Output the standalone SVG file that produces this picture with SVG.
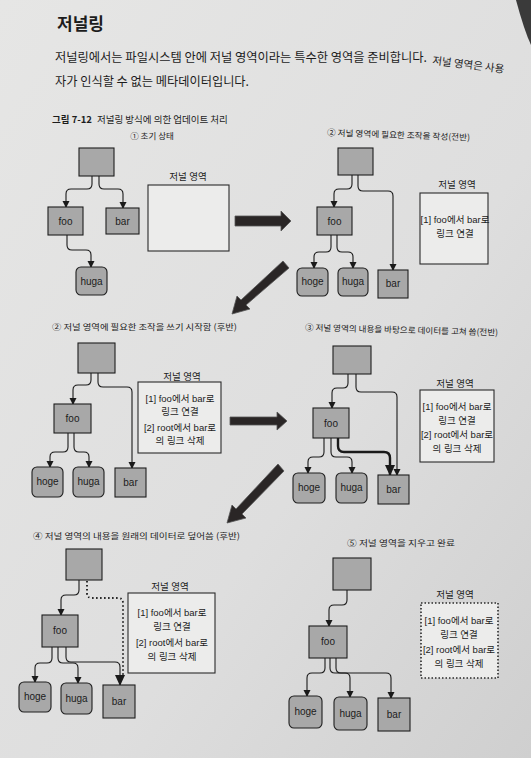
<svg xmlns="http://www.w3.org/2000/svg" width="531" height="758" viewBox="0 0 531 758">
<defs>
<linearGradient id="bg" x1="0" y1="0" x2="1" y2="1">
<stop offset="0" stop-color="#e6e6e5"/>
<stop offset="0.6" stop-color="#dedede"/>
<stop offset="1" stop-color="#cfcfcf"/>
</linearGradient>
<marker id="ah" markerUnits="userSpaceOnUse" markerWidth="8" markerHeight="8" refX="6" refY="3.5" orient="auto">
<path d="M0,0 L7,3.5 L0,7 z" fill="#1a1a1a"/>
</marker>
<marker id="ahb" markerUnits="userSpaceOnUse" markerWidth="12" markerHeight="12" refX="10" refY="5" orient="auto">
<path d="M0,0 L11,5 L0,10 z" fill="#1a1a1a"/>
</marker>
</defs>
<style>
.ko{font-family:"Noto Sans CJK KR","Liberation Sans",sans-serif;fill:#1c1c1c}
.lbl{font-family:"Liberation Sans","Noto Sans CJK KR",sans-serif;font-size:10px;fill:#1c1c1c;text-anchor:middle}
.jt{font-family:"Liberation Sans","Noto Sans CJK KR",sans-serif;font-size:9.5px;fill:#1c1c1c;text-anchor:middle}
.ptitle{font-family:"Noto Sans CJK KR","Liberation Sans",sans-serif;font-size:8.5px;fill:#222}
.node{fill:#a8a8a8;stroke:#1e1e1e;stroke-width:1.1}
.jbox{fill:#ececeb;stroke:#2a2a2a;stroke-width:1.1}
.jdot{fill:#ececeb;stroke:#2a2a2a;stroke-width:1.6;stroke-dasharray:1.5 2}
.c{fill:none;stroke:#1a1a1a;stroke-width:1.1;marker-end:url(#ah)}
.cb{fill:none;stroke:#1a1a1a;stroke-width:2.4;marker-end:url(#ahb)}
.ct{fill:none;stroke:#1a1a1a;stroke-width:1.1;marker-end:url(#ahb)}
.cd{fill:none;stroke:#1a1a1a;stroke-width:1.8;stroke-dasharray:1.5 2.5}
.big{fill:#2a2626;stroke:#555;stroke-width:0.8}
</style>
<rect width="531" height="758" fill="url(#bg)"/>
<path d="M516,0 L531,0 L531,45 Q524,30 516,0 z" fill="#3a3a3a"/>

<g id="header">
<text class="ko" x="57" y="30" font-size="17" font-weight="bold">저널링</text>
<text class="ko" x="55" y="62" font-size="12.5" textLength="372" lengthAdjust="spacingAndGlyphs">저널링에서는 파일시스템 안에 저널 영역이라는 특수한 영역을 준비합니다.</text>
<text class="ko" x="432" y="64" font-size="10.5" transform="rotate(7 432 64)">저널 영역은 사용</text>
<text class="ko" x="55" y="86" font-size="12.5" textLength="194" lengthAdjust="spacingAndGlyphs">자가 인식할 수 없는 메타데이터입니다.</text>
<text class="ko" x="52" y="123" font-size="9.5"><tspan font-weight="bold">그림 7-12</tspan><tspan dx="5">저널링 방식에 의한 업데이트 처리</tspan></text>
</g>

<g id="titles">
<text class="ptitle" x="152" y="139" text-anchor="middle">① 초기 상태</text>
<text class="ptitle" x="327" y="138" textLength="143" lengthAdjust="spacingAndGlyphs" transform="rotate(2 398 136)">② 저널 영역에 필요한 조작을 작성(전반)</text>
<text class="ptitle" x="52" y="330" textLength="185" lengthAdjust="spacingAndGlyphs">② 저널 영역에 필요한 조작을 쓰기 시작함 (후반)</text>
<text class="ptitle" x="305" y="333" textLength="193" lengthAdjust="spacingAndGlyphs" transform="rotate(1.5 400 331)">③ 저널 영역의 내용을 바탕으로 데이터를 고쳐 씀(전반)</text>
<text class="ptitle" x="33" y="539" textLength="207" lengthAdjust="spacingAndGlyphs">④ 저널 영역의 내용을 원래의 데이터로 덮어씀 (후반)</text>
<text class="ptitle" x="347" y="546" textLength="108" lengthAdjust="spacingAndGlyphs">⑤ 저널 영역을 지우고 완료</text>
</g>

<g id="connectors">
<!-- panel 1 -->
<path class="c" d="M92,176 V184 Q92,189 87,189 H71 Q66,189 66,194 V207"/>
<path class="c" d="M99,176 V184 Q99,189 104,189 H118 Q123,189 123,194 V208"/>
<path class="c" d="M67,235 V245 Q67,250 72,250 H86 Q91,250 91,255 V267"/>
<!-- panel 2 -->
<path class="c" d="M352,175 V184 Q352,189 347,189 H339 Q334,189 334,194 V207"/>
<path class="c" d="M358,175 V186 Q358,191 363,191 H388 Q393,191 393,196 V270"/>
<path class="c" d="M331,235 V247 Q331,252 326,252 H319 Q314,252 314,257 V268"/>
<path class="c" d="M337,235 V247 Q337,252 342,252 H348 Q353,252 353,257 V268"/>
<!-- panel 3 -->
<path class="c" d="M91,373 V380 Q91,385 86,385 H78 Q73,385 73,390 V404"/>
<path class="c" d="M98,373 V382 Q98,387 103,387 H127 Q132,387 132,392 V468"/>
<path class="c" d="M68,433 V447 Q68,452 63,452 H55 Q50,452 50,457 V467"/>
<path class="c" d="M74,433 V447 Q74,452 79,452 H84 Q89,452 89,457 V467"/>
<!-- panel 4 -->
<path class="c" d="M348,374 V383 Q348,388 343,388 H337 Q332,388 332,393 V408"/>
<path class="c" d="M356,374 V387 Q356,392 361,392 H392 Q397,392 397,397 V475"/>
<path class="c" d="M324,438 V452 Q324,457 319,457 H313 Q308,457 308,462 V473"/>
<path class="c" d="M331,438 V452 Q331,457 336,457 H347 Q352,457 352,462 V473"/>
<path class="cb" d="M338,438 V446 Q338,452 344,452 H384 Q390,452 390,458 V475"/>
<!-- panel 5 -->
<path class="c" d="M79,580 V590 Q79,595 74,595 H66 Q61,595 61,600 V615"/>
<path class="cd" d="M87,581 V593 Q87,598 92,598 H118 Q123,598 123,603 V676"/>
<path class="c" d="M52,647 V658 Q52,663 47,663 H40 Q35,663 35,668 V682"/>
<path class="c" d="M58,647 V658 Q58,663 63,663 H73 Q78,663 78,668 V683"/>
<path class="ct" d="M66,647 V657 Q66,662 71,662 H115 Q120,662 120,667 V685"/>
<!-- panel 6 -->
<path class="c" d="M347,590 V600 Q347,605 342,605 H334 Q329,605 329,610 V626"/>
<path class="c" d="M325,658 V668 Q325,673 320,673 H312 Q307,673 307,678 V696"/>
<path class="c" d="M330,658 V668 Q330,673 335,673 H345 Q350,673 350,678 V697"/>
<path class="c" d="M336,658 V668 Q336,673 341,673 H386 Q391,673 391,678 V698"/>
<!-- big arrows between panels -->
<polygon class="big" points="235,216 281,216 281,211 291,221 281,231 281,226 235,226"/>
<polygon class="big" points="283,261 289,268 246,305 250,309 232,314 237,296 241,300"/>
<polygon class="big" points="230,417 277,417 277,412 287,421 277,430 277,425 230,425"/>
<polygon class="big" points="278,464 284,471 242,514 246,518 227,523 232,505 236,509"/>
</g>

<g id="p1-root"><rect class="node" x="79" y="148" width="35" height="28"/></g>
<g id="p1-foo"><rect class="node" x="48" y="207" width="35" height="28"/><text class="lbl" x="65.5" y="224.5">foo</text></g>
<g id="p1-bar"><rect class="node" x="106" y="208" width="33" height="26"/><text class="lbl" x="122.5" y="224.5">bar</text></g>
<g id="p1-huga"><rect class="node" x="76" y="267" width="31" height="28" rx="5"/><text class="lbl" x="91.5" y="284.5">huga</text></g>
<g id="p1-journal"><text class="jt" x="188" y="180">저널 영역</text><rect class="jbox" x="148" y="185" width="81" height="66"/></g>

<g id="p2-root"><rect class="node" x="338" y="148" width="35" height="27"/></g>
<g id="p2-foo"><rect class="node" x="317" y="207" width="35" height="28"/><text class="lbl" x="334.5" y="224.5">foo</text></g>
<g id="p2-hoge"><rect class="node" x="297" y="268" width="31" height="28" rx="5"/><text class="lbl" x="312.5" y="285">hoge</text></g>
<g id="p2-huga"><rect class="node" x="338" y="268" width="30" height="28" rx="5"/><text class="lbl" x="353" y="285">huga</text></g>
<g id="p2-bar"><rect class="node" x="378" y="270" width="30" height="28"/><text class="lbl" x="393" y="287">bar</text></g>
<g id="p2-journal"><text class="jt" x="457" y="188">저널 영역</text><rect class="jbox" x="420" y="193" width="68" height="71"/><text class="jt" x="455" y="223">[1] foo에서 bar로</text><text class="jt" x="455" y="237">링크 연결</text></g>

<g id="p3-root"><rect class="node" x="78" y="343" width="37" height="30"/></g>
<g id="p3-foo"><rect class="node" x="54" y="404" width="37" height="29"/><text class="lbl" x="72.5" y="422">foo</text></g>
<g id="p3-hoge"><rect class="node" x="32" y="467" width="31" height="30" rx="5"/><text class="lbl" x="47.5" y="485">hoge</text></g>
<g id="p3-huga"><rect class="node" x="73" y="467" width="31" height="30" rx="5"/><text class="lbl" x="88.5" y="485">huga</text></g>
<g id="p3-bar"><rect class="node" x="115" y="468" width="31" height="29"/><text class="lbl" x="130.5" y="486">bar</text></g>
<g id="p3-journal"><text class="jt" x="182" y="380">저널 영역</text><rect class="jbox" x="138" y="382" width="83" height="71"/><text class="jt" x="180" y="402">[1] foo에서 bar로</text><text class="jt" x="180" y="415">링크 연결</text><text class="jt" x="180" y="431">[2] root에서 bar로</text><text class="jt" x="180" y="444">의 링크 삭제</text></g>

<g id="p4-root"><rect class="node" x="333" y="346" width="38" height="28"/></g>
<g id="p4-foo"><rect class="node" x="313" y="408" width="36" height="30" stroke-width="2.5"/><text class="lbl" x="331" y="426.5">foo</text></g>
<g id="p4-hoge"><rect class="node" x="293" y="473" width="32" height="30" rx="5"/><text class="lbl" x="309" y="491">hoge</text></g>
<g id="p4-huga"><rect class="node" x="336" y="473" width="31" height="30" rx="5"/><text class="lbl" x="351.5" y="491">huga</text></g>
<g id="p4-bar"><rect class="node" x="378" y="475" width="31" height="29"/><text class="lbl" x="393.5" y="493">bar</text></g>
<g id="p4-journal"><text class="jt" x="455" y="387">저널 영역</text><rect class="jbox" x="420" y="390" width="74" height="72"/><text class="jt" x="457" y="410">[1] foo에서 bar로</text><text class="jt" x="457" y="424">링크 연결</text><text class="jt" x="457" y="438">[2] root에서 bar로</text><text class="jt" x="457" y="452">의 링크 삭제</text></g>

<g id="p5-root"><rect class="node" x="66" y="549" width="36" height="31"/></g>
<g id="p5-foo"><rect class="node" x="42" y="615" width="36" height="32"/><text class="lbl" x="60" y="634">foo</text></g>
<g id="p5-hoge"><rect class="node" x="19" y="682" width="32" height="30" rx="5"/><text class="lbl" x="35" y="700">hoge</text></g>
<g id="p5-huga"><rect class="node" x="61" y="683" width="31" height="31" rx="5"/><text class="lbl" x="76.5" y="701.5">huga</text></g>
<g id="p5-bar"><rect class="node" x="103" y="685" width="32" height="33"/><text class="lbl" x="119" y="705">bar</text></g>
<g id="p5-journal"><text class="jt" x="170" y="590">저널 영역</text><rect class="jbox" x="128" y="593" width="87" height="80"/><text class="jt" x="172" y="616">[1] foo에서 bar로</text><text class="jt" x="172" y="630">링크 연결</text><text class="jt" x="172" y="646">[2] root에서 bar로</text><text class="jt" x="172" y="660">의 링크 삭제</text></g>

<g id="p6-root"><rect class="node" x="333" y="558" width="38" height="32"/></g>
<g id="p6-foo"><rect class="node" x="309" y="626" width="38" height="32"/><text class="lbl" x="328" y="645">foo</text></g>
<g id="p6-hoge"><rect class="node" x="289" y="696" width="33" height="32" rx="5"/><text class="lbl" x="305.5" y="715">hoge</text></g>
<g id="p6-huga"><rect class="node" x="334" y="697" width="33" height="33" rx="5"/><text class="lbl" x="350.5" y="716.5">huga</text></g>
<g id="p6-bar"><rect class="node" x="378" y="698" width="32" height="33"/><text class="lbl" x="394" y="717.5">bar</text></g>
<g id="p6-journal"><text class="jt" x="455" y="598">저널 영역</text><rect class="jdot" x="421" y="603" width="77" height="75"/><text class="jt" x="459" y="624">[1] foo에서 bar로</text><text class="jt" x="459" y="638">링크 연결</text><text class="jt" x="459" y="653">[2] root에서 bar로</text><text class="jt" x="459" y="667">의 링크 삭제</text></g>
</svg>
